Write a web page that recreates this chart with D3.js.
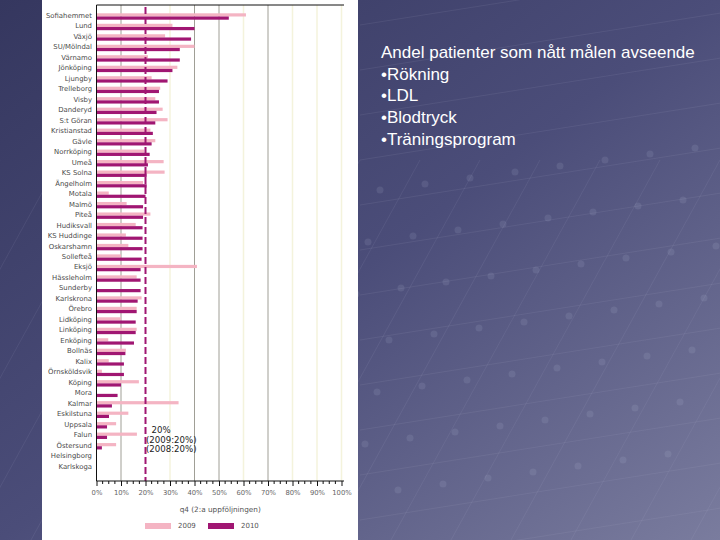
<!DOCTYPE html>
<html>
<head>
<meta charset="utf-8">
<script src="https://cdn.jsdelivr.net/npm/d3@7"></script>
<style>
  html, body { margin: 0; padding: 0; background: #3a3c66; }
  svg { display: block; }
</style>
</head>
<body>
<div id="viz"></div>
<script>
const W = 720;
const H = 540;

const hospitals = [
  'Sofiahemmet', 'Lund', 'Växjö', 'SU/Mölndal', 'Värnamo', 'Jönköping', 'Ljungby',
  'Trelleborg', 'Visby', 'Danderyd', 'S:t Göran', 'Kristianstad', 'Gävle', 'Norrköping',
  'Umeå', 'KS Solna', 'Ängelholm', 'Motala', 'Malmö', 'Piteå', 'Hudiksvall',
  'KS Huddinge', 'Oskarshamn', 'Sollefteå', 'Eksjö', 'Hässleholm', 'Sunderby',
  'Karlskrona', 'Örebro', 'Lidköping', 'Linköping', 'Enköping', 'Bollnäs', 'Kalix',
  'Örnsköldsvik', 'Köping', 'Mora', 'Kalmar', 'Eskilstuna', 'Uppsala', 'Falun',
  'Östersund', 'Helsingborg', 'Karlskoga',
];
const years = ['2009', '2010'];
const v2009 = [
  61, 31, 28, 40, 21, 33, 22.5, 26, 24, 27, 29, 22, 24, 19.5, 27.4, 27.8, 19, 5, 12.3,
  22, 16, 12, 13, 10, 41, 16.4, null, 18.4, 16.4, 10, 16.4, 4.8, 12, 5, 2.2, 17.3, null,
  33.5, 13, 8, 16.5, 8, null, null,
];
const v2010 = [
  54, 40, 38.6, 34, 34, 31, 29, 25.5, 25.5, 24.5, 24, 23, 22.5, 21.7, 21, 20.5, 20.5, 20,
  19, 19, 18.8, 18.8, 18.8, 18.4, 18, 18, 18, 16.8, 16.4, 16, 16, 15.3, 11.8, 11.2, 11.2,
  10, 8.6, 6.3, 5.1, 4.3, 4.3, 2.2, null, null,
];
const xTicks = [0, 10, 20, 30, 40, 50, 60, 70, 80, 90, 100];
const greyGrid = [10, 40, 50, 70];
const paleGrid = [30, 60, 80, 90, 100];
const target = 20;
const targetNotes = ['20%', '(2009:20%)', '(2008:20%)'];
const axisTitle = 'q4 (2:a uppföljningen)';
const slideLines = [
  'Andel patienter som nått målen avseende',
  '•Rökning',
  '•LDL',
  '•Blodtryck',
  '•Träningsprogram',
];

const colors = { '2009': '#f4b4c3', '2010': '#a01672' };
const rows = hospitals.map((h, i) => ({ name: h, '2009': v2009[i], '2010': v2010[i] }));

const svg = d3.select('#viz').append('svg')
  .attr('width', W).attr('height', H)
  .attr('font-family', 'DejaVu Sans, sans-serif');

// slide background
const defs = svg.append('defs');
const grad = defs.append('linearGradient').attr('id', 'bg')
  .attr('x1', '0%').attr('y1', '0%').attr('x2', '100%').attr('y2', '100%');
grad.append('stop').attr('offset', '0%').attr('stop-color', '#35375f');
grad.append('stop').attr('offset', '50%').attr('stop-color', '#4b4d79');
grad.append('stop').attr('offset', '100%').attr('stop-color', '#7a7c9e');
svg.append('rect').attr('width', W).attr('height', H).attr('fill', 'url(#bg)');

// faint network texture
const net = svg.append('g').attr('stroke', '#b8bbd8').attr('stroke-opacity', 0.1).attr('fill', 'none');
d3.range(-6, 14).forEach((k) => {
  net.append('line').attr('x1', 360 + k * 60).attr('y1', 160).attr('x2', 360 + k * 60 - 220).attr('y2', 560);
  net.append('line').attr('x1', 360).attr('y1', 160 + k * 45).attr('x2', 740).attr('y2', 100 + k * 45);
});
const dots = svg.append('g').attr('fill', '#c9cce6').attr('fill-opacity', 0.12);
d3.range(0, 7).forEach((i) => d3.range(0, 9).forEach((j) => {
  dots.append('circle').attr('cx', 380 + j * 45 - i * 12).attr('cy', 190 + i * 52 - j * 6).attr('r', 3.5);
}));

// white chart panel
svg.append('rect').attr('x', 42).attr('y', 0).attr('width', 316).attr('height', H).attr('fill', '#fff');

const plot = { left: 96.5, right: 341.5, top: 5, bottom: 481 };

const x = d3.scaleLinear().domain([0, 100]).range([plot.left, plot.right]);
const y = d3.scaleBand().domain(hospitals).range([10.3, 471.5]);
const ySub = d3.scaleBand().domain(years).range([3, 9.4]);

const g = svg.append('g');

// grid
g.selectAll('.pale').data(paleGrid).join('line')
  .attr('x1', (d) => x(d)).attr('x2', (d) => x(d))
  .attr('y1', plot.top).attr('y2', plot.bottom)
  .attr('stroke', '#f4f3dc').attr('stroke-width', 1.5);
g.selectAll('.grey').data(greyGrid).join('line')
  .attr('x1', (d) => x(d)).attr('x2', (d) => x(d))
  .attr('y1', plot.top).attr('y2', plot.bottom)
  .attr('stroke', '#a09f96').attr('stroke-width', 1);

// bars
const rowG = g.selectAll('.row').data(rows).join('g')
  .attr('transform', (d) => `translate(0,${y(d.name)})`);
rowG.selectAll('rect')
  .data((d) => years.filter((yr) => d[yr] != null).map((yr) => ({ yr, v: d[yr] })))
  .join('rect')
  .attr('x', x(0))
  .attr('y', (d) => ySub(d.yr))
  .attr('width', (d) => x(d.v) - x(0))
  .attr('height', ySub.bandwidth())
  .attr('fill', (d) => colors[d.yr]);

// target line
g.append('line')
  .attr('x1', x(target)).attr('x2', x(target))
  .attr('y1', plot.top + 2).attr('y2', plot.bottom)
  .attr('stroke', colors['2010']).attr('stroke-width', 2)
  .attr('stroke-dasharray', '7,3');

// frame
g.append('line').attr('x1', plot.left).attr('x2', 344).attr('y1', plot.top).attr('y2', plot.top)
  .attr('stroke', '#111').attr('stroke-width', 1);
g.append('line').attr('x1', plot.left).attr('x2', plot.left).attr('y1', plot.top).attr('y2', plot.bottom)
  .attr('stroke', '#111').attr('stroke-width', 1);

// category labels
g.selectAll('.lbl').data(hospitals).join('text')
  .attr('x', 92)
  .attr('y', (d) => y(d) + y.bandwidth() / 2 + 0.5)
  .attr('text-anchor', 'end')
  .attr('dominant-baseline', 'middle')
  .attr('font-size', 6.9)
  .attr('fill', '#4a4a4a')
  .text((d) => d);

// x axis
const xAxis = d3.axisBottom(x)
  .tickValues(xTicks)
  .tickSize(5)
  .tickFormat((d) => d + '%');
const ax = g.append('g').attr('transform', `translate(0,${plot.bottom})`).call(xAxis);
ax.select('.domain').attr('stroke', '#111').attr('d', `M${plot.left},0H344`);
ax.selectAll('.tick line').attr('stroke', '#111');
ax.selectAll('.tick text').attr('font-size', 6.8).attr('fill', '#666').attr('dy', '0.9em')
  .attr('font-family', 'DejaVu Sans, sans-serif');
const minor = d3.range(0, 101, 2.5).filter((d) => d % 10 !== 0);
ax.selectAll('.minor').data(minor).join('line')
  .attr('x1', (d) => x(d)).attr('x2', (d) => x(d))
  .attr('y1', 0).attr('y2', 3)
  .attr('stroke', '#111');

// axis title
g.append('text')
  .attr('x', (plot.left + 344) / 2).attr('y', 512)
  .attr('text-anchor', 'middle')
  .attr('font-size', 7.3).attr('fill', '#555')
  .text(axisTitle);

// legend
const leg = g.append('g').attr('transform', 'translate(145,523)');
years.forEach((yr, i) => {
  leg.append('rect').attr('x', i * 63).attr('y', 0).attr('width', 26).attr('height', 6)
    .attr('fill', colors[yr]);
  leg.append('text').attr('x', i * 63 + 33).attr('y', 3.5)
    .attr('dominant-baseline', 'middle')
    .attr('font-size', 7).attr('fill', '#555')
    .text(yr);
});

// target annotation
g.selectAll('.note').data(targetNotes).join('text')
  .attr('x', (d, i) => (i === 0 ? x(target) + 6 : x(target) + 0.5))
  .attr('y', (d, i) => 433 + i * 9.6)
  .attr('font-size', 8.6)
  .attr('fill', '#222')
  .text((d) => d);

// slide text
svg.append('g').selectAll('text').data(slideLines).join('text')
  .attr('x', 381)
  .attr('y', (d, i) => 58 + i * 21.7)
  .attr('font-family', 'Liberation Sans, Arial, sans-serif')
  .attr('font-size', 17)
  .attr('fill', '#fff')
  .text((d) => d);
</script>
</body>
</html>
